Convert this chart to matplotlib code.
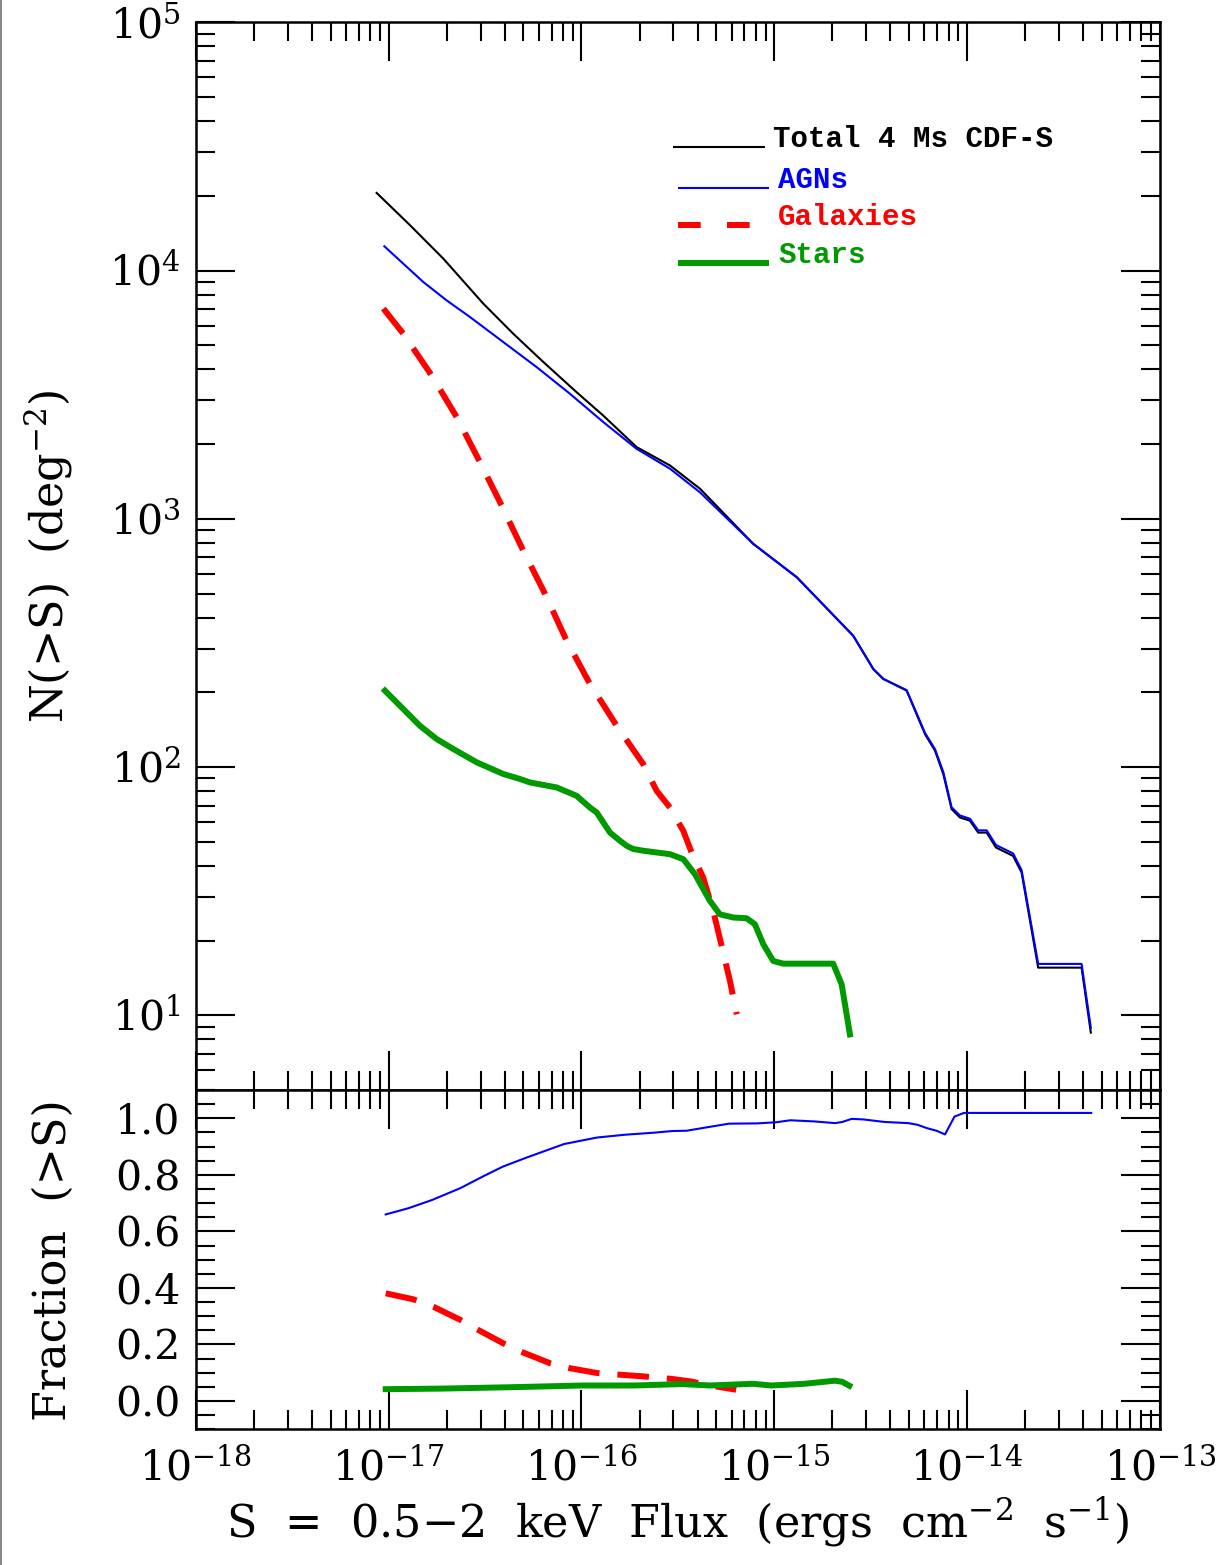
import numpy as np
import matplotlib
matplotlib.use('Agg')
import matplotlib.pyplot as plt
from matplotlib.lines import Line2D
from matplotlib.ticker import (LogLocator, MultipleLocator, FixedLocator, NullFormatter,
                               LogFormatterMathtext)

plt.rcParams['font.family'] = ['DejaVu Serif']
plt.rcParams['mathtext.fontset'] = 'dejavuserif'

# ---- data (log10 values) ----
# cumulative counts N(>S), deg^-2
total_logS = [-17.062, -16.889, -16.716, -16.509, -16.354, -16.198, -16.025, -15.887, -15.714,
              -15.541, -15.385, -15.109, -14.884, -14.591, -14.487, -14.435, -14.314, -14.219,
              -14.167, -14.124, -14.081, -14.038, -13.986, -13.943, -13.899, -13.851, -13.762,
              -13.718, -13.632, -13.407, -13.359]
total_logN = [4.313, 4.183, 4.048, 3.867, 3.746, 3.632, 3.510, 3.416, 3.289,
              3.215, 3.121, 2.899, 2.765, 2.529, 2.395, 2.355, 2.308, 2.133,
              2.066, 1.972, 1.831, 1.797, 1.784, 1.736, 1.736, 1.676, 1.642,
              1.575, 1.192, 1.192, 0.930]

agn_logS = [-17.022, -16.924, -16.820, -16.699, -16.578, -16.405, -16.232, -16.060, -15.887,
            -15.714, -15.541, -15.386, -15.109, -14.884, -14.591, -14.487, -14.435, -14.314,
            -14.219, -14.167, -14.124, -14.081, -14.038, -13.986, -13.943, -13.899, -13.851,
            -13.762, -13.718, -13.632, -13.407, -13.359]
agn_logN = [4.098, 4.028, 3.954, 3.880, 3.813, 3.712, 3.611, 3.504, 3.390,
            3.282, 3.202, 3.107, 2.899, 2.765, 2.529, 2.395, 2.355, 2.310,
            2.138, 2.072, 1.980, 1.838, 1.805, 1.792, 1.745, 1.745, 1.686,
            1.652, 1.585, 1.207, 1.207, 0.949]

gal_logS = [-17.027, -16.924, -16.777, -16.647, -16.526, -16.414, -16.302, -16.189, -16.077,
            -15.956, -15.817, -15.680, -15.610, -15.541, -15.472, -15.429, -15.369, -15.317,
            -15.273, -15.230, -15.195]
gal_logN = [3.847, 3.746, 3.578, 3.410, 3.228, 3.054, 2.872, 2.698, 2.509,
            2.335, 2.166, 2.012, 1.904, 1.837, 1.743, 1.656, 1.555, 1.421,
            1.279, 1.138, 1.004]

star_logS = [-17.019, -16.924, -16.837, -16.751, -16.665, -16.543, -16.405, -16.319, -16.267,
             -16.129, -16.025, -15.956, -15.921, -15.852, -15.800, -15.766, -15.732, -15.680,
             -15.541, -15.472, -15.412, -15.334, -15.283, -15.213, -15.144, -15.101, -15.057,
             -15.006, -14.954, -14.695, -14.651, -14.608]
star_logN = [2.308, 2.234, 2.166, 2.113, 2.073, 2.019, 1.972, 1.952, 1.938,
             1.918, 1.884, 1.837, 1.817, 1.736, 1.703, 1.683, 1.670, 1.663,
             1.649, 1.629, 1.569, 1.461, 1.407, 1.394, 1.391, 1.367, 1.286,
             1.219, 1.208, 1.208, 1.125, 0.923]

# fractions (>S)
agn_frac_logS = [-17.015, -16.897, -16.775, -16.628, -16.506, -16.408, -16.285, -16.090, -15.919,
                 -15.773, -15.626, -15.528, -15.455, -15.333, -15.235, -15.088, -14.990, -14.917,
                 -14.795, -14.685, -14.648, -14.599, -14.538, -14.428, -14.306, -14.257, -14.208,
                 -14.159, -14.115, -14.066, -14.017, -13.357]
agn_frac = [0.660, 0.682, 0.711, 0.753, 0.796, 0.829, 0.861, 0.909, 0.932,
            0.942, 0.949, 0.955, 0.956, 0.970, 0.981, 0.982, 0.986, 0.993,
            0.989, 0.983, 0.987, 0.998, 0.996, 0.987, 0.983, 0.977, 0.965,
            0.956, 0.943, 1.006, 1.019, 1.019]

gal_frac_logS = [-17.015, -16.873, -16.763, -16.628, -16.531, -16.408, -16.311, -16.164,
                 -16.066, -15.919, -15.797, -15.675, -15.528, -15.430, -15.333, -15.198]
gal_frac = [0.381, 0.360, 0.332, 0.287, 0.250, 0.205, 0.174, 0.134,
            0.117, 0.099, 0.093, 0.087, 0.078, 0.069, 0.055, 0.040]

star_frac_logS = [-17.015, -16.726, -16.359, -15.993, -15.724, -15.479, -15.333, -15.112,
                  -15.015, -14.844, -14.685, -14.648, -14.611]
star_frac = [0.042, 0.044, 0.049, 0.055, 0.055, 0.060, 0.055, 0.061,
             0.055, 0.061, 0.072, 0.068, 0.054]

x_major = [1e-18, 1e-17, 1e-16, 1e-15, 1e-14, 1e-13]
y_major = [1e1, 1e2, 1e3, 1e4, 1e5]
frac_major = [0.0, 0.2, 0.4, 0.6, 0.8, 1.0]

BLUE = '#0000ff'
RED = '#ff0000'
GREEN = '#009900'

fig = plt.figure(figsize=(12.21, 15.65), dpi=100)
ax1 = fig.add_axes([0.1603, 0.3035, 0.7898, 0.6822])
ax2 = fig.add_axes([0.1603, 0.0867, 0.7898, 0.2168], sharex=ax1)

# gray edge at the far left
fig.add_artist(Line2D([0.0012, 0.0012], [0, 1], color='#888888', lw=1.5))

dash = (5.3, 3.0)

ax1.plot(10 ** np.array(total_logS), 10 ** np.array(total_logN), color='black', lw=1.5)
ax1.plot(10 ** np.array(agn_logS), 10 ** np.array(agn_logN), color=BLUE, lw=1.5)
ax1.plot(10 ** np.array(gal_logS), 10 ** np.array(gal_logN), color=RED, lw=4.3,
         dashes=dash, solid_capstyle='butt')
ax1.plot(10 ** np.array(star_logS), 10 ** np.array(star_logN), color=GREEN, lw=4.3)

ax2.plot(10 ** np.array(agn_frac_logS), agn_frac, color=BLUE, lw=1.5)
ax2.plot(10 ** np.array(gal_frac_logS), gal_frac, color=RED, lw=4.3, dashes=dash)
ax2.plot(10 ** np.array(star_frac_logS), star_frac, color=GREEN, lw=4.3)

ax1.set_xscale('log')
ax1.set_yscale('log')
ax1.set_xlim(1e-18, 1e-13)
ax1.set_ylim(5, 1e5)
ax2.set_ylim(-0.1, 1.1)

for ax in (ax1, ax2):
    for sp in ax.spines.values():
        sp.set_linewidth(1.8)
    ax.tick_params(which='both', direction='in', top=True, right=True, width=1.5,
                   labelsize=29.5)
    ax.tick_params(which='major', length=28, pad=11)
    ax.tick_params(which='minor', length=14)

ax1.xaxis.set_major_locator(FixedLocator(x_major))
ax1.xaxis.set_minor_locator(LogLocator(base=10, subs=np.arange(2, 10), numticks=10))
ax1.xaxis.set_minor_formatter(NullFormatter())
ax1.xaxis.set_major_formatter(LogFormatterMathtext())

ax1.yaxis.set_major_locator(FixedLocator(y_major))
ax1.yaxis.set_minor_locator(LogLocator(base=10, subs=np.arange(2, 10), numticks=10))
ax1.yaxis.set_major_formatter(LogFormatterMathtext())
ax1.yaxis.set_minor_formatter(NullFormatter())
ax1.tick_params(axis='x', labelbottom=False)

ax2.yaxis.set_major_locator(FixedLocator(frac_major))
ax2.yaxis.set_minor_locator(MultipleLocator(0.05))
ax2.set_yticklabels(['%.1f' % v for v in frac_major])
ax2.tick_params(axis='x', which='major', pad=14)
ax2.set_xlim(1e-18, 1e-13)

ax1.set_ylabel(r'N(>S)  (deg$^{-2}$)', fontsize=32)
ax2.set_ylabel('Fraction  (>S)', fontsize=32)
ax2.set_xlabel(r'S  =  0.5$-$2  keV  Flux  (ergs  cm$^{-2}$  s$^{-1}$)', fontsize=32, labelpad=4)
ax1.yaxis.set_label_coords(-0.125, 0.5)
ax2.yaxis.set_label_coords(-0.125, 0.5)

# legend drawn by hand, text sitting on the line sample
leg_items = [
    ('Total 4 Ms CDF-S', 'black', 1.5, None, 0.495, 0.590, 0.599, 0.883),
    ('AGNs', BLUE, 1.5, None, 0.500, 0.594, 0.604, 0.845),
    ('Galaxies', RED, 4.3, (3.8, 4.4), 0.500, 0.586, 0.604, 0.810),
    ('Stars', GREEN, 4.3, None, 0.500, 0.594, 0.604, 0.775),
]
for label, col, lw, ds, x0, x1, xt, y in leg_items:
    ln = Line2D([x0, x1], [y, y], transform=ax1.transAxes, color=col, lw=lw,
                solid_capstyle='butt', dash_capstyle='butt')
    if ds is not None:
        ln.set_dashes(ds)
    ax1.add_line(ln)
    ax1.text(xt, y, label, transform=ax1.transAxes, color=col, fontsize=21,
             family='Liberation Mono', fontweight='bold', va='baseline', ha='left')

fig.savefig('out.png', dpi=100)
